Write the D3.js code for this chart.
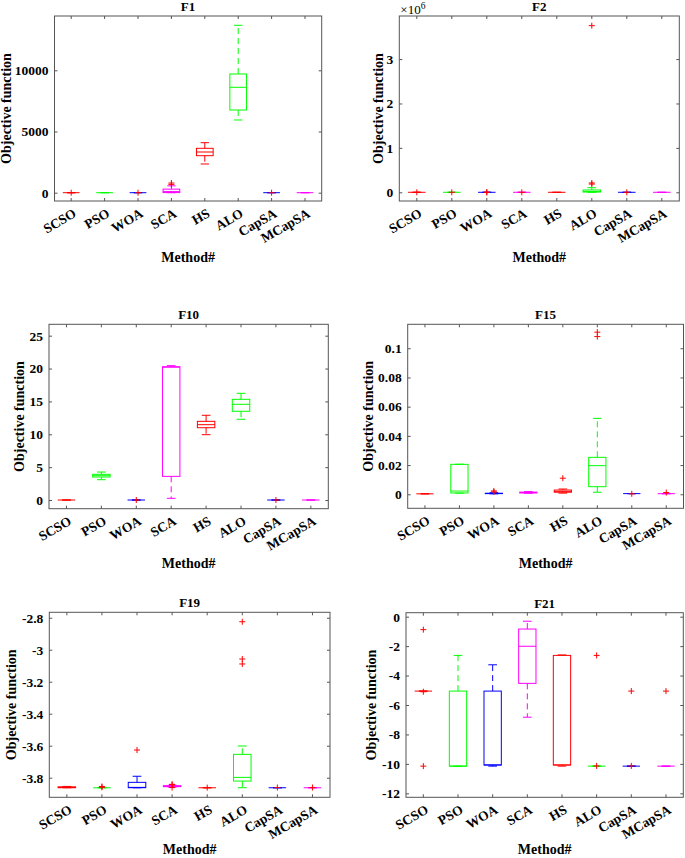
<!DOCTYPE html>
<html><head><meta charset="utf-8">
<script src="https://cdn.jsdelivr.net/npm/d3@7"></script>
<style>
body{margin:0;background:#fff}
svg{display:block}
text{font-family:"Liberation Serif","Times New Roman",serif;font-weight:bold;fill:#000}
</style>
</head><body>
<svg id="chart" width="685" height="858"></svg>
<script>
// ---------------- DATA ----------------
const methods = ["SCSO","PSO","WOA","SCA","HS","ALO","CapSA","MCapSA"];
const boxColors = ["#ff0000","#00ff00","#0000ff","#ff00ff"];
const titles = ["F1","F2","F10","F15","F19","F21"];

// each row: [lower whisker, Q1, median, Q3, upper whisker]
const F1_stats = [[0,0,0,0,0],[0,0,0,0,0],[0,0,0,0,0],[0,10,90,290,560],
  [2345,3023,3325,3627,4085],[5940,6757,8610,9698,13676],[0,0,0,0,0],[0,0,0,0,0]];
const F1_outliers = [[0],[],[0],[680,790],[],[],[0],[]];

const F2_stats = [[0,0,0,0,0],[0,0,0,0,0],[0,0,0,0,0],[0,0,0,0,0],
  [0,0,0,0,0],[0,5000,20000,52000,103600],[0,0,0,0,0],[0,0,0,0,0]];
const F2_outliers = [[0],[0],[0,2000],[0],[],[185000,210000,3752000],[0],[]];

const F10_stats = [[0,0,0,0,0],[3.09,3.50,3.70,3.91,4.26],[0,0,0,0,0],[0.26,3.6,20.2,20.28,20.44],
  [9.94,11.0,11.46,11.97,12.89],[12.28,13.5,14.56,15.32,16.23],[0,0,0,0,0],[0,0,0,0,0]];
const F10_outliers = [[],[],[0],[],[],[],[0],[]];

const F15_stats = [[0.000307,0.000307,0.000307,0.000307,0.000307],[0.00075,0.0009,0.0022,0.0205,0.0206],
  [0.00031,0.00045,0.00055,0.0007,0.0011],[0.0007,0.0009,0.0012,0.0015,0.0018],
  [0.0008,0.0014,0.002,0.0029,0.0036],[0.0014,0.0052,0.0196,0.0253,0.052],
  [0.00045,0.00045,0.00045,0.00045,0.00045],[0.0004,0.0004,0.0004,0.0004,0.0004]];
const F15_outliers = [[],[],[0.0016,0.0023],[],[0.011],[0.108,0.111],[0.00031],[0.0012]];

const F19_stats = [[-3.8628,-3.8627,-3.861,-3.857,-3.8545],[-3.8628,-3.8628,-3.8628,-3.8628,-3.8628],
  [-3.8628,-3.8625,-3.8605,-3.829,-3.791],[-3.8585,-3.856,-3.854,-3.85,-3.847],
  [-3.8628,-3.8628,-3.8628,-3.8628,-3.8628],[-3.8625,-3.821,-3.798,-3.654,-3.602],
  [-3.8628,-3.8628,-3.8628,-3.8628,-3.8628],[-3.8628,-3.8628,-3.8628,-3.8628,-3.8628]];
const F19_outliers = [[],[-3.8549,-3.86],[-3.627],[-3.8437,-3.862,-3.8415],[-3.862],
  [-2.825,-3.058,-3.089],[-3.8615],[-3.8615]];

const F21_stats = [[-5.0552,-5.0552,-5.0552,-5.0552,-5.0552],[-10.1532,-10.1532,-10.1532,-5.0552,-2.6305],
  [-10.1532,-10.08,-10.07,-5.0552,-3.27],[-6.83,-4.53,-2.01,-0.84,-0.31],
  [-10.1532,-10.08,-10.07,-2.63,-2.6],[-10.1532,-10.1532,-10.1532,-10.1532,-10.1532],
  [-10.1532,-10.1532,-10.1532,-10.1532,-10.1532],[-10.1532,-10.1532,-10.1532,-10.1532,-10.1532]];
const F21_outliers = [[-0.88,-5.1008,-10.1532],[],[],[],[],[-2.6305,-10.14],[-5.0552,-10.14],[-5.0552]];

const yDomains = [[-678,14436],[-196000,3970000],[-1.32,26.73],[-0.0096,0.1164],[-3.9225,-2.766],[-12.27,0.27]];
const yTicks = [[0,5000,10000],[0,1e6,2e6,3e6],[0,5,10,15,20,25],[0,0.02,0.04,0.06,0.08,0.1],
  [-3.8,-3.6,-3.4,-3.2,-3,-2.8],[-12,-10,-8,-6,-4,-2,0]];
const tickDivisors = [1,1e6,1,1,1,1];
const yLabel = "Objective function";
const xLabel = "Method#";

const allStats = [F1_stats,F2_stats,F10_stats,F15_stats,F19_stats,F21_stats];
const allOutliers = [F1_outliers,F2_outliers,F10_outliers,F15_outliers,F19_outliers,F21_outliers];

// ---------------- LAYOUT ----------------
const panels = [
  {l:54.5, r:321.7, t:16,    b:201,   yl:7,     xl:61},
  {l:399.3,r:679.3, t:16,    b:201,   yl:378.5, xl:61},
  {l:49,   r:328.3, t:324.3, b:508.7, yl:19.3,  xl:59.5},
  {l:407.7,r:683.5, t:324.3, b:508.3, yl:368.3, xl:59.5},
  {l:49.3, r:330,   t:612.3, b:797.3, yl:11.7,  xl:57},
  {l:406,  r:683.3, t:612.7, b:797.3, yl:371.7, xl:57}
];
const axisColor = "#555";
const svg = d3.select("#chart");

panels.forEach((p, i) => {
  const g = svg.append("g");
  const x = d3.scaleBand().domain(methods).range([p.l, p.r]).paddingInner(0.5).paddingOuter(0.25);
  const y = d3.scaleLinear().domain(yDomains[i]).range([p.b, p.t]);
  const fmt = d => String(+(d / tickDivisors[i]).toFixed(6));

  const left = g.append("g").attr("transform", `translate(${p.l},0)`)
    .call(d3.axisLeft(y).tickValues(yTicks[i]).tickSize(-3).tickPadding(6).tickFormat(fmt));
  const right = g.append("g").attr("transform", `translate(${p.r},0)`)
    .call(d3.axisRight(y).tickValues(yTicks[i]).tickSize(-3).tickFormat(""));
  const bottom = g.append("g").attr("transform", `translate(0,${p.b})`)
    .call(d3.axisBottom(x).tickSize(-3).tickFormat(""));
  const top = g.append("g").attr("transform", `translate(0,${p.t})`)
    .call(d3.axisTop(x).tickSize(-3).tickFormat(""));
  [left,right,bottom,top].forEach(a => {
    a.select(".domain").remove();
    a.selectAll(".tick line").attr("stroke", axisColor);
  });
  left.selectAll(".tick text").attr("font-size", 13.5).attr("fill", "#000")
    .style("font-family", '"Liberation Serif","Times New Roman",serif').style("font-weight", "bold");

  g.append("rect").attr("x", p.l).attr("y", p.t).attr("width", p.r - p.l).attr("height", p.b - p.t)
    .attr("fill", "none").attr("stroke", axisColor).attr("stroke-width", 1);

  methods.forEach(m => {
    const cx = x(m) + x.bandwidth() / 2;
    g.append("text").attr("transform", `translate(${cx + 6},${p.b + 15}) rotate(-30)`)
      .attr("text-anchor", "end").attr("font-size", 13.5).text(m);
  });

  g.append("text").attr("x", (p.l + p.r) / 2).attr("y", p.t - 5).attr("text-anchor", "middle")
    .attr("font-size", 13).text(titles[i]);
  g.append("text").attr("x", (p.l + p.r) / 2).attr("y", p.b + p.xl).attr("text-anchor", "middle")
    .attr("font-size", 14).text(xLabel);
  g.append("text").attr("transform", `translate(${p.yl},${(p.t + p.b) / 2}) rotate(-90)`)
    .attr("dy", "0.3em").attr("text-anchor", "middle").attr("font-size", 14).text(yLabel);

  if (tickDivisors[i] !== 1) {
    const t = g.append("text").attr("x", p.l + 1).attr("y", p.t - 2).attr("font-size", 13)
      .style("font-family", '"Liberation Serif","Times New Roman",serif').style("font-weight", "normal");
    t.append("tspan").text("\u00d710");
    t.append("tspan").attr("dy", -5).attr("font-size", 9.5).text(Math.log10(tickDivisors[i]));
  }

  const stats = allStats[i], outs = allOutliers[i];
  methods.forEach((m, k) => {
    const [wlo, q1, med, q3, whi] = stats[k];
    const col = boxColors[k % 4];
    const bx = x(m), bw = x.bandwidth(), cx = bx + bw / 2;
    const bg = g.append("g").attr("stroke", col).attr("fill", "none").attr("stroke-width", 1);
    bg.append("line").attr("x1", cx).attr("x2", cx).attr("y1", y(q3)).attr("y2", y(whi)).attr("stroke-dasharray", "6,4");
    bg.append("line").attr("x1", cx).attr("x2", cx).attr("y1", y(q1)).attr("y2", y(wlo)).attr("stroke-dasharray", "6,4");
    bg.append("line").attr("x1", cx - bw / 4).attr("x2", cx + bw / 4).attr("y1", y(whi)).attr("y2", y(whi));
    bg.append("line").attr("x1", cx - bw / 4).attr("x2", cx + bw / 4).attr("y1", y(wlo)).attr("y2", y(wlo));
    bg.append("rect").attr("x", bx).attr("width", bw).attr("y", y(q3)).attr("height", Math.max(0, y(q1) - y(q3)));
    bg.append("line").attr("x1", bx).attr("x2", bx + bw).attr("y1", y(med)).attr("y2", y(med));
    outs[k].forEach(v => {
      const yy = y(v);
      g.append("path").attr("d", `M${cx - 3},${yy}H${cx + 3}M${cx},${yy - 3}V${yy + 3}`)
        .attr("stroke", "#ff0000").attr("stroke-width", 1).attr("fill", "none");
    });
  });
});
</script>
</body></html>
